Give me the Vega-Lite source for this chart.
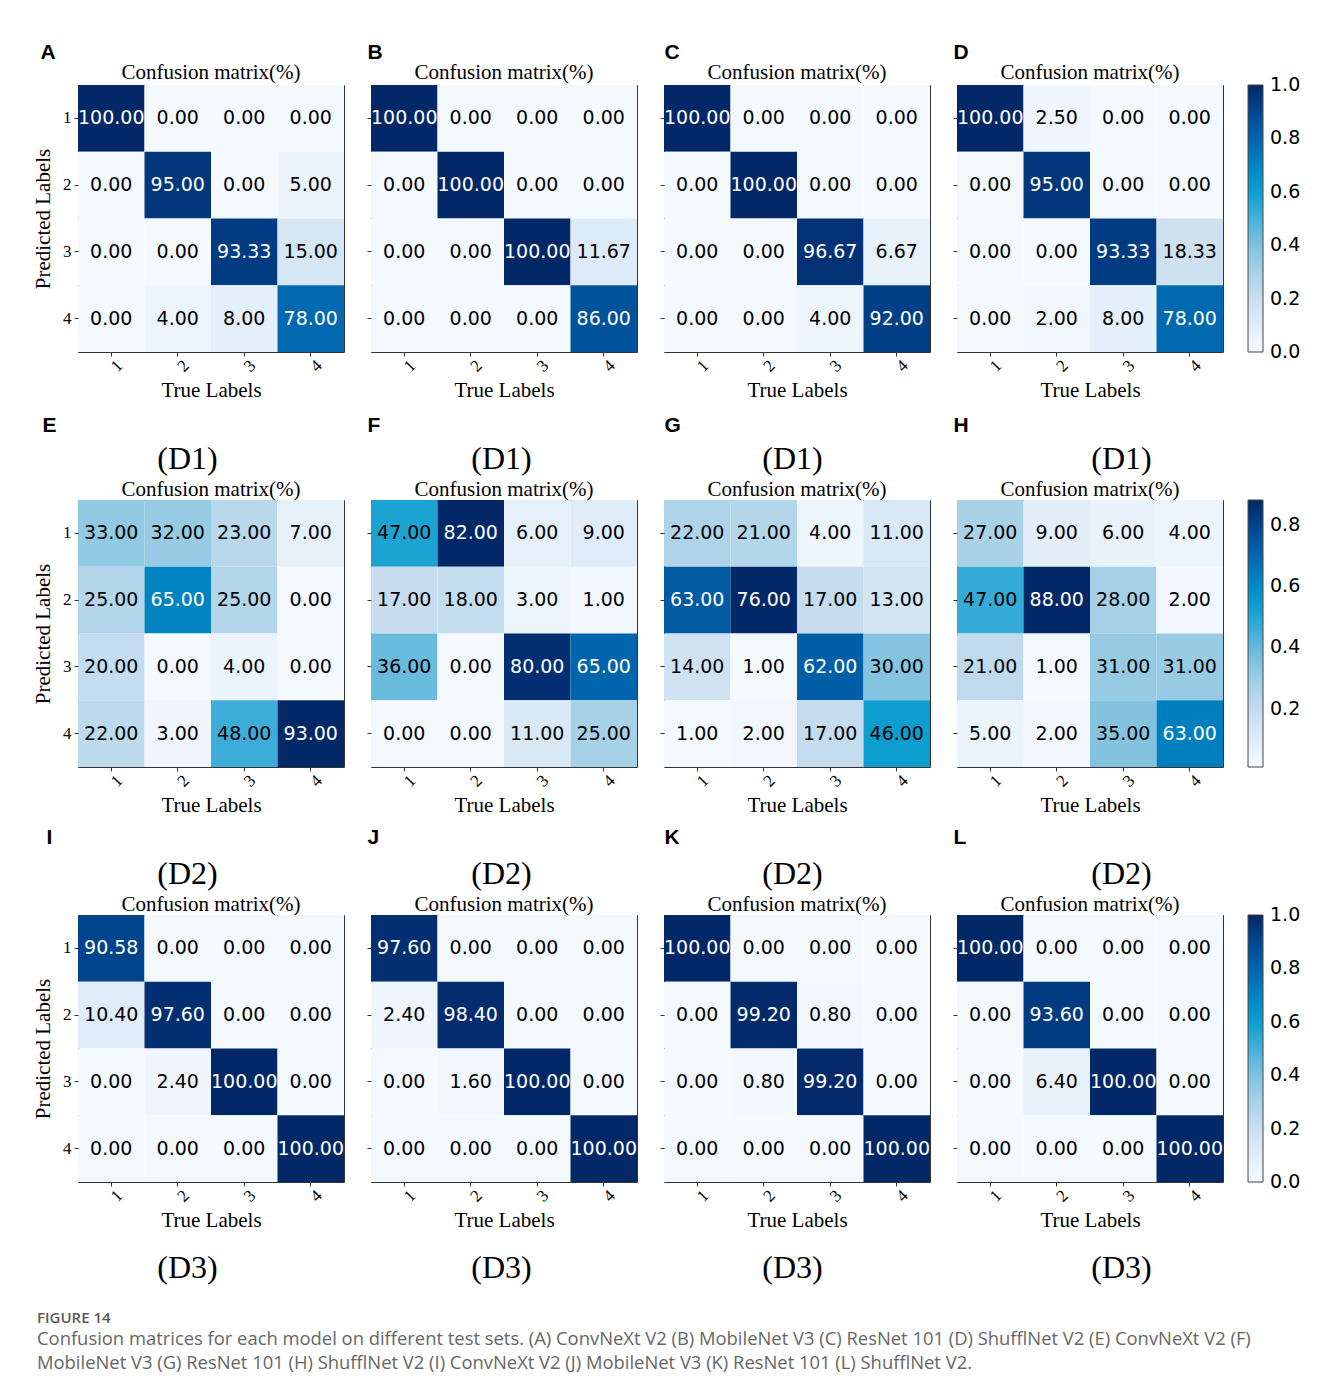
{
  "$schema": "https://vega.github.io/schema/vega-lite/v6.json",
  "background": "white",
  "padding": {"left": 32, "top": 40, "right": 5, "bottom": 5},
  "datasets": {
    "cm": [
      {"panel": "A", "pred": 1, "truth": 1, "pct": 100}, {"panel": "A", "pred": 1, "truth": 2, "pct": 0}, {"panel": "A", "pred": 1, "truth": 3, "pct": 0}, {"panel": "A", "pred": 1, "truth": 4, "pct": 0},
      {"panel": "A", "pred": 2, "truth": 1, "pct": 0}, {"panel": "A", "pred": 2, "truth": 2, "pct": 95}, {"panel": "A", "pred": 2, "truth": 3, "pct": 0}, {"panel": "A", "pred": 2, "truth": 4, "pct": 5},
      {"panel": "A", "pred": 3, "truth": 1, "pct": 0}, {"panel": "A", "pred": 3, "truth": 2, "pct": 0}, {"panel": "A", "pred": 3, "truth": 3, "pct": 93.33}, {"panel": "A", "pred": 3, "truth": 4, "pct": 15},
      {"panel": "A", "pred": 4, "truth": 1, "pct": 0}, {"panel": "A", "pred": 4, "truth": 2, "pct": 4}, {"panel": "A", "pred": 4, "truth": 3, "pct": 8}, {"panel": "A", "pred": 4, "truth": 4, "pct": 78},

      {"panel": "B", "pred": 1, "truth": 1, "pct": 100}, {"panel": "B", "pred": 1, "truth": 2, "pct": 0}, {"panel": "B", "pred": 1, "truth": 3, "pct": 0}, {"panel": "B", "pred": 1, "truth": 4, "pct": 0},
      {"panel": "B", "pred": 2, "truth": 1, "pct": 0}, {"panel": "B", "pred": 2, "truth": 2, "pct": 100}, {"panel": "B", "pred": 2, "truth": 3, "pct": 0}, {"panel": "B", "pred": 2, "truth": 4, "pct": 0},
      {"panel": "B", "pred": 3, "truth": 1, "pct": 0}, {"panel": "B", "pred": 3, "truth": 2, "pct": 0}, {"panel": "B", "pred": 3, "truth": 3, "pct": 100}, {"panel": "B", "pred": 3, "truth": 4, "pct": 11.67},
      {"panel": "B", "pred": 4, "truth": 1, "pct": 0}, {"panel": "B", "pred": 4, "truth": 2, "pct": 0}, {"panel": "B", "pred": 4, "truth": 3, "pct": 0}, {"panel": "B", "pred": 4, "truth": 4, "pct": 86},

      {"panel": "C", "pred": 1, "truth": 1, "pct": 100}, {"panel": "C", "pred": 1, "truth": 2, "pct": 0}, {"panel": "C", "pred": 1, "truth": 3, "pct": 0}, {"panel": "C", "pred": 1, "truth": 4, "pct": 0},
      {"panel": "C", "pred": 2, "truth": 1, "pct": 0}, {"panel": "C", "pred": 2, "truth": 2, "pct": 100}, {"panel": "C", "pred": 2, "truth": 3, "pct": 0}, {"panel": "C", "pred": 2, "truth": 4, "pct": 0},
      {"panel": "C", "pred": 3, "truth": 1, "pct": 0}, {"panel": "C", "pred": 3, "truth": 2, "pct": 0}, {"panel": "C", "pred": 3, "truth": 3, "pct": 96.67}, {"panel": "C", "pred": 3, "truth": 4, "pct": 6.67},
      {"panel": "C", "pred": 4, "truth": 1, "pct": 0}, {"panel": "C", "pred": 4, "truth": 2, "pct": 0}, {"panel": "C", "pred": 4, "truth": 3, "pct": 4}, {"panel": "C", "pred": 4, "truth": 4, "pct": 92},

      {"panel": "D", "pred": 1, "truth": 1, "pct": 100}, {"panel": "D", "pred": 1, "truth": 2, "pct": 2.5}, {"panel": "D", "pred": 1, "truth": 3, "pct": 0}, {"panel": "D", "pred": 1, "truth": 4, "pct": 0},
      {"panel": "D", "pred": 2, "truth": 1, "pct": 0}, {"panel": "D", "pred": 2, "truth": 2, "pct": 95}, {"panel": "D", "pred": 2, "truth": 3, "pct": 0}, {"panel": "D", "pred": 2, "truth": 4, "pct": 0},
      {"panel": "D", "pred": 3, "truth": 1, "pct": 0}, {"panel": "D", "pred": 3, "truth": 2, "pct": 0}, {"panel": "D", "pred": 3, "truth": 3, "pct": 93.33}, {"panel": "D", "pred": 3, "truth": 4, "pct": 18.33},
      {"panel": "D", "pred": 4, "truth": 1, "pct": 0}, {"panel": "D", "pred": 4, "truth": 2, "pct": 2}, {"panel": "D", "pred": 4, "truth": 3, "pct": 8}, {"panel": "D", "pred": 4, "truth": 4, "pct": 78},

      {"panel": "E", "pred": 1, "truth": 1, "pct": 33}, {"panel": "E", "pred": 1, "truth": 2, "pct": 32}, {"panel": "E", "pred": 1, "truth": 3, "pct": 23}, {"panel": "E", "pred": 1, "truth": 4, "pct": 7},
      {"panel": "E", "pred": 2, "truth": 1, "pct": 25}, {"panel": "E", "pred": 2, "truth": 2, "pct": 65}, {"panel": "E", "pred": 2, "truth": 3, "pct": 25}, {"panel": "E", "pred": 2, "truth": 4, "pct": 0},
      {"panel": "E", "pred": 3, "truth": 1, "pct": 20}, {"panel": "E", "pred": 3, "truth": 2, "pct": 0}, {"panel": "E", "pred": 3, "truth": 3, "pct": 4}, {"panel": "E", "pred": 3, "truth": 4, "pct": 0},
      {"panel": "E", "pred": 4, "truth": 1, "pct": 22}, {"panel": "E", "pred": 4, "truth": 2, "pct": 3}, {"panel": "E", "pred": 4, "truth": 3, "pct": 48}, {"panel": "E", "pred": 4, "truth": 4, "pct": 93},

      {"panel": "F", "pred": 1, "truth": 1, "pct": 47}, {"panel": "F", "pred": 1, "truth": 2, "pct": 82}, {"panel": "F", "pred": 1, "truth": 3, "pct": 6}, {"panel": "F", "pred": 1, "truth": 4, "pct": 9},
      {"panel": "F", "pred": 2, "truth": 1, "pct": 17}, {"panel": "F", "pred": 2, "truth": 2, "pct": 18}, {"panel": "F", "pred": 2, "truth": 3, "pct": 3}, {"panel": "F", "pred": 2, "truth": 4, "pct": 1},
      {"panel": "F", "pred": 3, "truth": 1, "pct": 36}, {"panel": "F", "pred": 3, "truth": 2, "pct": 0}, {"panel": "F", "pred": 3, "truth": 3, "pct": 80}, {"panel": "F", "pred": 3, "truth": 4, "pct": 65},
      {"panel": "F", "pred": 4, "truth": 1, "pct": 0}, {"panel": "F", "pred": 4, "truth": 2, "pct": 0}, {"panel": "F", "pred": 4, "truth": 3, "pct": 11}, {"panel": "F", "pred": 4, "truth": 4, "pct": 25},

      {"panel": "G", "pred": 1, "truth": 1, "pct": 22}, {"panel": "G", "pred": 1, "truth": 2, "pct": 21}, {"panel": "G", "pred": 1, "truth": 3, "pct": 4}, {"panel": "G", "pred": 1, "truth": 4, "pct": 11},
      {"panel": "G", "pred": 2, "truth": 1, "pct": 63}, {"panel": "G", "pred": 2, "truth": 2, "pct": 76}, {"panel": "G", "pred": 2, "truth": 3, "pct": 17}, {"panel": "G", "pred": 2, "truth": 4, "pct": 13},
      {"panel": "G", "pred": 3, "truth": 1, "pct": 14}, {"panel": "G", "pred": 3, "truth": 2, "pct": 1}, {"panel": "G", "pred": 3, "truth": 3, "pct": 62}, {"panel": "G", "pred": 3, "truth": 4, "pct": 30},
      {"panel": "G", "pred": 4, "truth": 1, "pct": 1}, {"panel": "G", "pred": 4, "truth": 2, "pct": 2}, {"panel": "G", "pred": 4, "truth": 3, "pct": 17}, {"panel": "G", "pred": 4, "truth": 4, "pct": 46},

      {"panel": "H", "pred": 1, "truth": 1, "pct": 27}, {"panel": "H", "pred": 1, "truth": 2, "pct": 9}, {"panel": "H", "pred": 1, "truth": 3, "pct": 6}, {"panel": "H", "pred": 1, "truth": 4, "pct": 4},
      {"panel": "H", "pred": 2, "truth": 1, "pct": 47}, {"panel": "H", "pred": 2, "truth": 2, "pct": 88}, {"panel": "H", "pred": 2, "truth": 3, "pct": 28}, {"panel": "H", "pred": 2, "truth": 4, "pct": 2},
      {"panel": "H", "pred": 3, "truth": 1, "pct": 21}, {"panel": "H", "pred": 3, "truth": 2, "pct": 1}, {"panel": "H", "pred": 3, "truth": 3, "pct": 31}, {"panel": "H", "pred": 3, "truth": 4, "pct": 31},
      {"panel": "H", "pred": 4, "truth": 1, "pct": 5}, {"panel": "H", "pred": 4, "truth": 2, "pct": 2}, {"panel": "H", "pred": 4, "truth": 3, "pct": 35}, {"panel": "H", "pred": 4, "truth": 4, "pct": 63},

      {"panel": "I", "pred": 1, "truth": 1, "pct": 90.58}, {"panel": "I", "pred": 1, "truth": 2, "pct": 0}, {"panel": "I", "pred": 1, "truth": 3, "pct": 0}, {"panel": "I", "pred": 1, "truth": 4, "pct": 0},
      {"panel": "I", "pred": 2, "truth": 1, "pct": 10.4}, {"panel": "I", "pred": 2, "truth": 2, "pct": 97.6}, {"panel": "I", "pred": 2, "truth": 3, "pct": 0}, {"panel": "I", "pred": 2, "truth": 4, "pct": 0},
      {"panel": "I", "pred": 3, "truth": 1, "pct": 0}, {"panel": "I", "pred": 3, "truth": 2, "pct": 2.4}, {"panel": "I", "pred": 3, "truth": 3, "pct": 100}, {"panel": "I", "pred": 3, "truth": 4, "pct": 0},
      {"panel": "I", "pred": 4, "truth": 1, "pct": 0}, {"panel": "I", "pred": 4, "truth": 2, "pct": 0}, {"panel": "I", "pred": 4, "truth": 3, "pct": 0}, {"panel": "I", "pred": 4, "truth": 4, "pct": 100},

      {"panel": "J", "pred": 1, "truth": 1, "pct": 97.6}, {"panel": "J", "pred": 1, "truth": 2, "pct": 0}, {"panel": "J", "pred": 1, "truth": 3, "pct": 0}, {"panel": "J", "pred": 1, "truth": 4, "pct": 0},
      {"panel": "J", "pred": 2, "truth": 1, "pct": 2.4}, {"panel": "J", "pred": 2, "truth": 2, "pct": 98.4}, {"panel": "J", "pred": 2, "truth": 3, "pct": 0}, {"panel": "J", "pred": 2, "truth": 4, "pct": 0},
      {"panel": "J", "pred": 3, "truth": 1, "pct": 0}, {"panel": "J", "pred": 3, "truth": 2, "pct": 1.6}, {"panel": "J", "pred": 3, "truth": 3, "pct": 100}, {"panel": "J", "pred": 3, "truth": 4, "pct": 0},
      {"panel": "J", "pred": 4, "truth": 1, "pct": 0}, {"panel": "J", "pred": 4, "truth": 2, "pct": 0}, {"panel": "J", "pred": 4, "truth": 3, "pct": 0}, {"panel": "J", "pred": 4, "truth": 4, "pct": 100},

      {"panel": "K", "pred": 1, "truth": 1, "pct": 100}, {"panel": "K", "pred": 1, "truth": 2, "pct": 0}, {"panel": "K", "pred": 1, "truth": 3, "pct": 0}, {"panel": "K", "pred": 1, "truth": 4, "pct": 0},
      {"panel": "K", "pred": 2, "truth": 1, "pct": 0}, {"panel": "K", "pred": 2, "truth": 2, "pct": 99.2}, {"panel": "K", "pred": 2, "truth": 3, "pct": 0.8}, {"panel": "K", "pred": 2, "truth": 4, "pct": 0},
      {"panel": "K", "pred": 3, "truth": 1, "pct": 0}, {"panel": "K", "pred": 3, "truth": 2, "pct": 0.8}, {"panel": "K", "pred": 3, "truth": 3, "pct": 99.2}, {"panel": "K", "pred": 3, "truth": 4, "pct": 0},
      {"panel": "K", "pred": 4, "truth": 1, "pct": 0}, {"panel": "K", "pred": 4, "truth": 2, "pct": 0}, {"panel": "K", "pred": 4, "truth": 3, "pct": 0}, {"panel": "K", "pred": 4, "truth": 4, "pct": 100},

      {"panel": "L", "pred": 1, "truth": 1, "pct": 100}, {"panel": "L", "pred": 1, "truth": 2, "pct": 0}, {"panel": "L", "pred": 1, "truth": 3, "pct": 0}, {"panel": "L", "pred": 1, "truth": 4, "pct": 0},
      {"panel": "L", "pred": 2, "truth": 1, "pct": 0}, {"panel": "L", "pred": 2, "truth": 2, "pct": 93.6}, {"panel": "L", "pred": 2, "truth": 3, "pct": 0}, {"panel": "L", "pred": 2, "truth": 4, "pct": 0},
      {"panel": "L", "pred": 3, "truth": 1, "pct": 0}, {"panel": "L", "pred": 3, "truth": 2, "pct": 6.4}, {"panel": "L", "pred": 3, "truth": 3, "pct": 100}, {"panel": "L", "pred": 3, "truth": 4, "pct": 0},
      {"panel": "L", "pred": 4, "truth": 1, "pct": 0}, {"panel": "L", "pred": 4, "truth": 2, "pct": 0}, {"panel": "L", "pred": 4, "truth": 3, "pct": 0}, {"panel": "L", "pred": 4, "truth": 4, "pct": 100}
    ]
  },
  "data": {"name": "cm"},
  "title": {
    "text": "FIGURE 14",
    "subtitle": [
      "Confusion matrices for each model on different test sets. (A) ConvNeXt V2 (B) MobileNet V3 (C) ResNet 101 (D) ShufflNet V2 (E) ConvNeXt V2 (F)",
      "MobileNet V3 (G) ResNet 101 (H) ShufflNet V2 (I) ConvNeXt V2 (J) MobileNet V3 (K) ResNet 101 (L) ShufflNet V2."
    ],
    "orient": "bottom",
    "anchor": "start",
    "frame": "bounds",
    "offset": 27,
    "dx": 5,
    "font": "Open Sans",
    "fontSize": 15,
    "fontWeight": 600,
    "color": "#5a5a5a",
    "subtitleFont": "Open Sans",
    "subtitleFontSize": 18.4,
    "subtitleColor": "#666666",
    "subtitleLineHeight": 24,
    "subtitlePadding": 4
  },
  "columns": 4,
  "spacing": {"row": 148, "column": 27},
  "bounds": "flush",
  "resolve": {"scale": {"color": "independent"}},
  "concat": [
    {
      "width": 266, "height": 267, "title": {"text": "Confusion matrix(%)", "dy": 45},
      "transform": [{"filter": "datum.panel === 'A'"}],
      "layer": [
        {"mark": "rect", "encoding": {
          "x": {"field": "truth", "type": "ordinal", "scale": {"paddingInner": 0, "paddingOuter": 0}, "axis": {"orient": "bottom", "title": "True Labels", "labelAngle": -45, "labelAlign": "center", "labelBaseline": "top", "labelPadding": 4, "titlePadding": 5}},
          "y": {"field": "pred", "type": "ordinal", "scale": {"paddingInner": 0, "paddingOuter": 0}, "axis": {"orient": "left", "title": "Predicted Labels", "labelAngle": 0, "labelPadding": 3, "titlePadding": 9}},
          "color": {"field": "pct", "type": "quantitative", "scale": {"domain": [0, 10, 20, 30, 40, 50, 60, 70, 80, 90, 100], "range": ["#f4f9fe", "#e1edf8", "#c9def0", "#a9d2e7", "#7fc2df", "#45b0da", "#0d9ecf", "#0083c1", "#0063aa", "#00468f", "#032868"], "interpolate": "rgb"}, "legend": null}}},
        {"mark": "text", "encoding": {
          "x": {"field": "truth", "type": "ordinal", "axis": {"orient": "top", "title": "A", "labels": false, "ticks": false, "domain": false, "titleFont": "Liberation Sans", "titleFontWeight": "bold", "titleFontSize": 21, "titleAlign": "left", "titleBaseline": "alphabetic", "titleX": -38, "titleY": -27}},
          "y": {"field": "pred", "type": "ordinal", "axis": {"orient": "right", "title": "(D1)", "labels": false, "ticks": false, "domain": false, "titleAngle": 0, "titleAlign": "center", "titleBaseline": "alphabetic", "titleFontSize": 32, "titleX": -157, "titleY": 383}},
          "text": {"field": "pct", "type": "quantitative", "format": ".2f"},
          "color": {"condition": {"test": "datum.pct > 50", "value": "#ffffff"}, "value": "#000000"}}}
      ],
      "resolve": {"axis": {"x": "independent", "y": "independent"}}
    },
    {
      "width": 266, "height": 267, "title": {"text": "Confusion matrix(%)", "dy": 45},
      "transform": [{"filter": "datum.panel === 'B'"}],
      "layer": [
        {"mark": "rect", "encoding": {
          "x": {"field": "truth", "type": "ordinal", "scale": {"paddingInner": 0, "paddingOuter": 0}, "axis": {"orient": "bottom", "title": "True Labels", "labelAngle": -45, "labelAlign": "center", "labelBaseline": "top", "labelPadding": 4, "titlePadding": 5}},
          "y": {"field": "pred", "type": "ordinal", "scale": {"paddingInner": 0, "paddingOuter": 0}, "axis": {"orient": "left", "title": null, "labels": false}},
          "color": {"field": "pct", "type": "quantitative", "scale": {"domain": [0, 10, 20, 30, 40, 50, 60, 70, 80, 90, 100], "range": ["#f4f9fe", "#e1edf8", "#c9def0", "#a9d2e7", "#7fc2df", "#45b0da", "#0d9ecf", "#0083c1", "#0063aa", "#00468f", "#032868"], "interpolate": "rgb"}, "legend": null}}},
        {"mark": "text", "encoding": {
          "x": {"field": "truth", "type": "ordinal", "axis": {"orient": "top", "title": "B", "labels": false, "ticks": false, "domain": false, "titleFont": "Liberation Sans", "titleFontWeight": "bold", "titleFontSize": 21, "titleAlign": "left", "titleBaseline": "alphabetic", "titleX": -4, "titleY": -27}},
          "y": {"field": "pred", "type": "ordinal", "axis": {"orient": "right", "title": "(D1)", "labels": false, "ticks": false, "domain": false, "titleAngle": 0, "titleAlign": "center", "titleBaseline": "alphabetic", "titleFontSize": 32, "titleX": -136, "titleY": 383}},
          "text": {"field": "pct", "type": "quantitative", "format": ".2f"},
          "color": {"condition": {"test": "datum.pct > 50", "value": "#ffffff"}, "value": "#000000"}}}
      ],
      "resolve": {"axis": {"x": "independent", "y": "independent"}}
    },
    {
      "width": 266, "height": 267, "title": {"text": "Confusion matrix(%)", "dy": 45},
      "transform": [{"filter": "datum.panel === 'C'"}],
      "layer": [
        {"mark": "rect", "encoding": {
          "x": {"field": "truth", "type": "ordinal", "scale": {"paddingInner": 0, "paddingOuter": 0}, "axis": {"orient": "bottom", "title": "True Labels", "labelAngle": -45, "labelAlign": "center", "labelBaseline": "top", "labelPadding": 4, "titlePadding": 5}},
          "y": {"field": "pred", "type": "ordinal", "scale": {"paddingInner": 0, "paddingOuter": 0}, "axis": {"orient": "left", "title": null, "labels": false}},
          "color": {"field": "pct", "type": "quantitative", "scale": {"domain": [0, 10, 20, 30, 40, 50, 60, 70, 80, 90, 100], "range": ["#f4f9fe", "#e1edf8", "#c9def0", "#a9d2e7", "#7fc2df", "#45b0da", "#0d9ecf", "#0083c1", "#0063aa", "#00468f", "#032868"], "interpolate": "rgb"}, "legend": null}}},
        {"mark": "text", "encoding": {
          "x": {"field": "truth", "type": "ordinal", "axis": {"orient": "top", "title": "C", "labels": false, "ticks": false, "domain": false, "titleFont": "Liberation Sans", "titleFontWeight": "bold", "titleFontSize": 21, "titleAlign": "left", "titleBaseline": "alphabetic", "titleX": 0, "titleY": -27}},
          "y": {"field": "pred", "type": "ordinal", "axis": {"orient": "right", "title": "(D1)", "labels": false, "ticks": false, "domain": false, "titleAngle": 0, "titleAlign": "center", "titleBaseline": "alphabetic", "titleFontSize": 32, "titleX": -138, "titleY": 383}},
          "text": {"field": "pct", "type": "quantitative", "format": ".2f"},
          "color": {"condition": {"test": "datum.pct > 50", "value": "#ffffff"}, "value": "#000000"}}}
      ],
      "resolve": {"axis": {"x": "independent", "y": "independent"}}
    },
    {
      "width": 266, "height": 267, "title": {"text": "Confusion matrix(%)", "dy": 45},
      "transform": [{"filter": "datum.panel === 'D'"}],
      "layer": [
        {"mark": "rect", "encoding": {
          "x": {"field": "truth", "type": "ordinal", "scale": {"paddingInner": 0, "paddingOuter": 0}, "axis": {"orient": "bottom", "title": "True Labels", "labelAngle": -45, "labelAlign": "center", "labelBaseline": "top", "labelPadding": 4, "titlePadding": 5}},
          "y": {"field": "pred", "type": "ordinal", "scale": {"paddingInner": 0, "paddingOuter": 0}, "axis": {"orient": "left", "title": null, "labels": false}},
          "color": {"field": "pct", "type": "quantitative", "scale": {"domain": [0, 10, 20, 30, 40, 50, 60, 70, 80, 90, 100], "range": ["#f4f9fe", "#e1edf8", "#c9def0", "#a9d2e7", "#7fc2df", "#45b0da", "#0d9ecf", "#0083c1", "#0063aa", "#00468f", "#032868"], "interpolate": "rgb"},
            "legend": {"orient": "right", "offset": 25, "title": null, "direction": "vertical", "gradientLength": 267, "gradientThickness": 15, "gradientStrokeColor": "#444444", "gradientStrokeWidth": 1, "labelFont": "DejaVu Sans", "labelFontSize": 19, "labelColor": "#000000", "labelOffset": 7, "labelOverlap": false, "values": [0, 20, 40, 60, 80, 100], "labelExpr": "format(datum.value / 100, '.1f')", "encode": {"labels": {"update": {"baseline": {"value": "middle"}}}}}}}},
        {"mark": "text", "encoding": {
          "x": {"field": "truth", "type": "ordinal", "axis": {"orient": "top", "title": "D", "labels": false, "ticks": false, "domain": false, "titleFont": "Liberation Sans", "titleFontWeight": "bold", "titleFontSize": 21, "titleAlign": "left", "titleBaseline": "alphabetic", "titleX": -4, "titleY": -27}},
          "y": {"field": "pred", "type": "ordinal", "axis": {"orient": "right", "title": "(D1)", "labels": false, "ticks": false, "domain": false, "titleAngle": 0, "titleAlign": "center", "titleBaseline": "alphabetic", "titleFontSize": 32, "titleX": -102, "titleY": 383}},
          "text": {"field": "pct", "type": "quantitative", "format": ".2f"},
          "color": {"condition": {"test": "datum.pct > 50", "value": "#ffffff"}, "value": "#000000"}}}
      ],
      "resolve": {"axis": {"x": "independent", "y": "independent"}}
    },
    {
      "width": 266, "height": 267, "title": {"text": "Confusion matrix(%)", "dy": 89},
      "transform": [{"filter": "datum.panel === 'E'"}],
      "layer": [
        {"mark": "rect", "encoding": {
          "x": {"field": "truth", "type": "ordinal", "scale": {"paddingInner": 0, "paddingOuter": 0}, "axis": {"orient": "bottom", "title": "True Labels", "labelAngle": -45, "labelAlign": "center", "labelBaseline": "top", "labelPadding": 4, "titlePadding": 5}},
          "y": {"field": "pred", "type": "ordinal", "scale": {"paddingInner": 0, "paddingOuter": 0}, "axis": {"orient": "left", "title": "Predicted Labels", "labelAngle": 0, "labelPadding": 3, "titlePadding": 9}},
          "color": {"field": "pct", "type": "quantitative", "scale": {"domain": [0, 9.3, 18.6, 27.9, 37.2, 46.5, 55.8, 65.1, 74.4, 83.7, 93], "range": ["#f4f9fe", "#e1edf8", "#c9def0", "#a9d2e7", "#7fc2df", "#45b0da", "#0d9ecf", "#0083c1", "#0063aa", "#00468f", "#032868"], "interpolate": "rgb"}, "legend": null}}},
        {"mark": "text", "encoding": {
          "x": {"field": "truth", "type": "ordinal", "axis": {"orient": "top", "title": "E", "labels": false, "ticks": false, "domain": false, "titleFont": "Liberation Sans", "titleFontWeight": "bold", "titleFontSize": 21, "titleAlign": "left", "titleBaseline": "alphabetic", "titleX": -36, "titleY": -69}},
          "y": {"field": "pred", "type": "ordinal", "axis": {"orient": "right", "title": "(D2)", "labels": false, "ticks": false, "domain": false, "titleAngle": 0, "titleAlign": "center", "titleBaseline": "alphabetic", "titleFontSize": 32, "titleX": -157, "titleY": 383}},
          "text": {"field": "pct", "type": "quantitative", "format": ".2f"},
          "color": {"condition": {"test": "datum.pct > 50", "value": "#ffffff"}, "value": "#000000"}}}
      ],
      "resolve": {"axis": {"x": "independent", "y": "independent"}}
    },
    {
      "width": 266, "height": 267, "title": {"text": "Confusion matrix(%)", "dy": 89},
      "transform": [{"filter": "datum.panel === 'F'"}],
      "layer": [
        {"mark": "rect", "encoding": {
          "x": {"field": "truth", "type": "ordinal", "scale": {"paddingInner": 0, "paddingOuter": 0}, "axis": {"orient": "bottom", "title": "True Labels", "labelAngle": -45, "labelAlign": "center", "labelBaseline": "top", "labelPadding": 4, "titlePadding": 5}},
          "y": {"field": "pred", "type": "ordinal", "scale": {"paddingInner": 0, "paddingOuter": 0}, "axis": {"orient": "left", "title": null, "labels": false}},
          "color": {"field": "pct", "type": "quantitative", "scale": {"domain": [0, 8.2, 16.4, 24.6, 32.8, 41, 49.2, 57.4, 65.6, 73.8, 82], "range": ["#f4f9fe", "#e1edf8", "#c9def0", "#a9d2e7", "#7fc2df", "#45b0da", "#0d9ecf", "#0083c1", "#0063aa", "#00468f", "#032868"], "interpolate": "rgb"}, "legend": null}}},
        {"mark": "text", "encoding": {
          "x": {"field": "truth", "type": "ordinal", "axis": {"orient": "top", "title": "F", "labels": false, "ticks": false, "domain": false, "titleFont": "Liberation Sans", "titleFontWeight": "bold", "titleFontSize": 21, "titleAlign": "left", "titleBaseline": "alphabetic", "titleX": -4, "titleY": -69}},
          "y": {"field": "pred", "type": "ordinal", "axis": {"orient": "right", "title": "(D2)", "labels": false, "ticks": false, "domain": false, "titleAngle": 0, "titleAlign": "center", "titleBaseline": "alphabetic", "titleFontSize": 32, "titleX": -136, "titleY": 383}},
          "text": {"field": "pct", "type": "quantitative", "format": ".2f"},
          "color": {"condition": {"test": "datum.pct > 50", "value": "#ffffff"}, "value": "#000000"}}}
      ],
      "resolve": {"axis": {"x": "independent", "y": "independent"}}
    },
    {
      "width": 266, "height": 267, "title": {"text": "Confusion matrix(%)", "dy": 89},
      "transform": [{"filter": "datum.panel === 'G'"}],
      "layer": [
        {"mark": "rect", "encoding": {
          "x": {"field": "truth", "type": "ordinal", "scale": {"paddingInner": 0, "paddingOuter": 0}, "axis": {"orient": "bottom", "title": "True Labels", "labelAngle": -45, "labelAlign": "center", "labelBaseline": "top", "labelPadding": 4, "titlePadding": 5}},
          "y": {"field": "pred", "type": "ordinal", "scale": {"paddingInner": 0, "paddingOuter": 0}, "axis": {"orient": "left", "title": null, "labels": false}},
          "color": {"field": "pct", "type": "quantitative", "scale": {"domain": [1, 8.5, 16, 23.5, 31, 38.5, 46, 53.5, 61, 68.5, 76], "range": ["#f4f9fe", "#e1edf8", "#c9def0", "#a9d2e7", "#7fc2df", "#45b0da", "#0d9ecf", "#0083c1", "#0063aa", "#00468f", "#032868"], "interpolate": "rgb"}, "legend": null}}},
        {"mark": "text", "encoding": {
          "x": {"field": "truth", "type": "ordinal", "axis": {"orient": "top", "title": "G", "labels": false, "ticks": false, "domain": false, "titleFont": "Liberation Sans", "titleFontWeight": "bold", "titleFontSize": 21, "titleAlign": "left", "titleBaseline": "alphabetic", "titleX": 0, "titleY": -69}},
          "y": {"field": "pred", "type": "ordinal", "axis": {"orient": "right", "title": "(D2)", "labels": false, "ticks": false, "domain": false, "titleAngle": 0, "titleAlign": "center", "titleBaseline": "alphabetic", "titleFontSize": 32, "titleX": -138, "titleY": 383}},
          "text": {"field": "pct", "type": "quantitative", "format": ".2f"},
          "color": {"condition": {"test": "datum.pct > 50", "value": "#ffffff"}, "value": "#000000"}}}
      ],
      "resolve": {"axis": {"x": "independent", "y": "independent"}}
    },
    {
      "width": 266, "height": 267, "title": {"text": "Confusion matrix(%)", "dy": 89},
      "transform": [{"filter": "datum.panel === 'H'"}],
      "layer": [
        {"mark": "rect", "encoding": {
          "x": {"field": "truth", "type": "ordinal", "scale": {"paddingInner": 0, "paddingOuter": 0}, "axis": {"orient": "bottom", "title": "True Labels", "labelAngle": -45, "labelAlign": "center", "labelBaseline": "top", "labelPadding": 4, "titlePadding": 5}},
          "y": {"field": "pred", "type": "ordinal", "scale": {"paddingInner": 0, "paddingOuter": 0}, "axis": {"orient": "left", "title": null, "labels": false}},
          "color": {"field": "pct", "type": "quantitative", "scale": {"domain": [1, 9.7, 18.4, 27.1, 35.8, 44.5, 53.2, 61.9, 70.6, 79.3, 88], "range": ["#f4f9fe", "#e1edf8", "#c9def0", "#a9d2e7", "#7fc2df", "#45b0da", "#0d9ecf", "#0083c1", "#0063aa", "#00468f", "#032868"], "interpolate": "rgb"},
            "legend": {"orient": "right", "offset": 25, "title": null, "direction": "vertical", "gradientLength": 267, "gradientThickness": 15, "gradientStrokeColor": "#444444", "gradientStrokeWidth": 1, "labelFont": "DejaVu Sans", "labelFontSize": 19, "labelColor": "#000000", "labelOffset": 7, "labelOverlap": false, "values": [20, 40, 60, 80], "labelExpr": "format(datum.value / 100, '.1f')", "encode": {"labels": {"update": {"baseline": {"value": "middle"}}}}}}}},
        {"mark": "text", "encoding": {
          "x": {"field": "truth", "type": "ordinal", "axis": {"orient": "top", "title": "H", "labels": false, "ticks": false, "domain": false, "titleFont": "Liberation Sans", "titleFontWeight": "bold", "titleFontSize": 21, "titleAlign": "left", "titleBaseline": "alphabetic", "titleX": -4, "titleY": -69}},
          "y": {"field": "pred", "type": "ordinal", "axis": {"orient": "right", "title": "(D2)", "labels": false, "ticks": false, "domain": false, "titleAngle": 0, "titleAlign": "center", "titleBaseline": "alphabetic", "titleFontSize": 32, "titleX": -102, "titleY": 383}},
          "text": {"field": "pct", "type": "quantitative", "format": ".2f"},
          "color": {"condition": {"test": "datum.pct > 50", "value": "#ffffff"}, "value": "#000000"}}}
      ],
      "resolve": {"axis": {"x": "independent", "y": "independent"}}
    },
    {
      "width": 266, "height": 267, "title": {"text": "Confusion matrix(%)", "dy": 92},
      "transform": [{"filter": "datum.panel === 'I'"}],
      "layer": [
        {"mark": "rect", "encoding": {
          "x": {"field": "truth", "type": "ordinal", "scale": {"paddingInner": 0, "paddingOuter": 0}, "axis": {"orient": "bottom", "title": "True Labels", "labelAngle": -45, "labelAlign": "center", "labelBaseline": "top", "labelPadding": 4, "titlePadding": 5}},
          "y": {"field": "pred", "type": "ordinal", "scale": {"paddingInner": 0, "paddingOuter": 0}, "axis": {"orient": "left", "title": "Predicted Labels", "labelAngle": 0, "labelPadding": 3, "titlePadding": 9}},
          "color": {"field": "pct", "type": "quantitative", "scale": {"domain": [0, 10, 20, 30, 40, 50, 60, 70, 80, 90, 100], "range": ["#f4f9fe", "#e1edf8", "#c9def0", "#a9d2e7", "#7fc2df", "#45b0da", "#0d9ecf", "#0083c1", "#0063aa", "#00468f", "#032868"], "interpolate": "rgb"}, "legend": null}}},
        {"mark": "text", "encoding": {
          "x": {"field": "truth", "type": "ordinal", "axis": {"orient": "top", "title": "I", "labels": false, "ticks": false, "domain": false, "titleFont": "Liberation Sans", "titleFontWeight": "bold", "titleFontSize": 21, "titleAlign": "left", "titleBaseline": "alphabetic", "titleX": -32, "titleY": -72}},
          "y": {"field": "pred", "type": "ordinal", "axis": {"orient": "right", "title": "(D3)", "labels": false, "ticks": false, "domain": false, "titleAngle": 0, "titleAlign": "center", "titleBaseline": "alphabetic", "titleFontSize": 32, "titleX": -157, "titleY": 362}},
          "text": {"field": "pct", "type": "quantitative", "format": ".2f"},
          "color": {"condition": {"test": "datum.pct > 50", "value": "#ffffff"}, "value": "#000000"}}}
      ],
      "resolve": {"axis": {"x": "independent", "y": "independent"}}
    },
    {
      "width": 266, "height": 267, "title": {"text": "Confusion matrix(%)", "dy": 92},
      "transform": [{"filter": "datum.panel === 'J'"}],
      "layer": [
        {"mark": "rect", "encoding": {
          "x": {"field": "truth", "type": "ordinal", "scale": {"paddingInner": 0, "paddingOuter": 0}, "axis": {"orient": "bottom", "title": "True Labels", "labelAngle": -45, "labelAlign": "center", "labelBaseline": "top", "labelPadding": 4, "titlePadding": 5}},
          "y": {"field": "pred", "type": "ordinal", "scale": {"paddingInner": 0, "paddingOuter": 0}, "axis": {"orient": "left", "title": null, "labels": false}},
          "color": {"field": "pct", "type": "quantitative", "scale": {"domain": [0, 10, 20, 30, 40, 50, 60, 70, 80, 90, 100], "range": ["#f4f9fe", "#e1edf8", "#c9def0", "#a9d2e7", "#7fc2df", "#45b0da", "#0d9ecf", "#0083c1", "#0063aa", "#00468f", "#032868"], "interpolate": "rgb"}, "legend": null}}},
        {"mark": "text", "encoding": {
          "x": {"field": "truth", "type": "ordinal", "axis": {"orient": "top", "title": "J", "labels": false, "ticks": false, "domain": false, "titleFont": "Liberation Sans", "titleFontWeight": "bold", "titleFontSize": 21, "titleAlign": "left", "titleBaseline": "alphabetic", "titleX": -4, "titleY": -72}},
          "y": {"field": "pred", "type": "ordinal", "axis": {"orient": "right", "title": "(D3)", "labels": false, "ticks": false, "domain": false, "titleAngle": 0, "titleAlign": "center", "titleBaseline": "alphabetic", "titleFontSize": 32, "titleX": -136, "titleY": 362}},
          "text": {"field": "pct", "type": "quantitative", "format": ".2f"},
          "color": {"condition": {"test": "datum.pct > 50", "value": "#ffffff"}, "value": "#000000"}}}
      ],
      "resolve": {"axis": {"x": "independent", "y": "independent"}}
    },
    {
      "width": 266, "height": 267, "title": {"text": "Confusion matrix(%)", "dy": 92},
      "transform": [{"filter": "datum.panel === 'K'"}],
      "layer": [
        {"mark": "rect", "encoding": {
          "x": {"field": "truth", "type": "ordinal", "scale": {"paddingInner": 0, "paddingOuter": 0}, "axis": {"orient": "bottom", "title": "True Labels", "labelAngle": -45, "labelAlign": "center", "labelBaseline": "top", "labelPadding": 4, "titlePadding": 5}},
          "y": {"field": "pred", "type": "ordinal", "scale": {"paddingInner": 0, "paddingOuter": 0}, "axis": {"orient": "left", "title": null, "labels": false}},
          "color": {"field": "pct", "type": "quantitative", "scale": {"domain": [0, 10, 20, 30, 40, 50, 60, 70, 80, 90, 100], "range": ["#f4f9fe", "#e1edf8", "#c9def0", "#a9d2e7", "#7fc2df", "#45b0da", "#0d9ecf", "#0083c1", "#0063aa", "#00468f", "#032868"], "interpolate": "rgb"}, "legend": null}}},
        {"mark": "text", "encoding": {
          "x": {"field": "truth", "type": "ordinal", "axis": {"orient": "top", "title": "K", "labels": false, "ticks": false, "domain": false, "titleFont": "Liberation Sans", "titleFontWeight": "bold", "titleFontSize": 21, "titleAlign": "left", "titleBaseline": "alphabetic", "titleX": 0, "titleY": -72}},
          "y": {"field": "pred", "type": "ordinal", "axis": {"orient": "right", "title": "(D3)", "labels": false, "ticks": false, "domain": false, "titleAngle": 0, "titleAlign": "center", "titleBaseline": "alphabetic", "titleFontSize": 32, "titleX": -138, "titleY": 362}},
          "text": {"field": "pct", "type": "quantitative", "format": ".2f"},
          "color": {"condition": {"test": "datum.pct > 50", "value": "#ffffff"}, "value": "#000000"}}}
      ],
      "resolve": {"axis": {"x": "independent", "y": "independent"}}
    },
    {
      "width": 266, "height": 267, "title": {"text": "Confusion matrix(%)", "dy": 92},
      "transform": [{"filter": "datum.panel === 'L'"}],
      "layer": [
        {"mark": "rect", "encoding": {
          "x": {"field": "truth", "type": "ordinal", "scale": {"paddingInner": 0, "paddingOuter": 0}, "axis": {"orient": "bottom", "title": "True Labels", "labelAngle": -45, "labelAlign": "center", "labelBaseline": "top", "labelPadding": 4, "titlePadding": 5}},
          "y": {"field": "pred", "type": "ordinal", "scale": {"paddingInner": 0, "paddingOuter": 0}, "axis": {"orient": "left", "title": null, "labels": false}},
          "color": {"field": "pct", "type": "quantitative", "scale": {"domain": [0, 10, 20, 30, 40, 50, 60, 70, 80, 90, 100], "range": ["#f4f9fe", "#e1edf8", "#c9def0", "#a9d2e7", "#7fc2df", "#45b0da", "#0d9ecf", "#0083c1", "#0063aa", "#00468f", "#032868"], "interpolate": "rgb"},
            "legend": {"orient": "right", "offset": 25, "title": null, "direction": "vertical", "gradientLength": 267, "gradientThickness": 15, "gradientStrokeColor": "#444444", "gradientStrokeWidth": 1, "labelFont": "DejaVu Sans", "labelFontSize": 19, "labelColor": "#000000", "labelOffset": 7, "labelOverlap": false, "values": [0, 20, 40, 60, 80, 100], "labelExpr": "format(datum.value / 100, '.1f')", "encode": {"labels": {"update": {"baseline": {"value": "middle"}}}}}}}},
        {"mark": "text", "encoding": {
          "x": {"field": "truth", "type": "ordinal", "axis": {"orient": "top", "title": "L", "labels": false, "ticks": false, "domain": false, "titleFont": "Liberation Sans", "titleFontWeight": "bold", "titleFontSize": 21, "titleAlign": "left", "titleBaseline": "alphabetic", "titleX": -4, "titleY": -72}},
          "y": {"field": "pred", "type": "ordinal", "axis": {"orient": "right", "title": "(D3)", "labels": false, "ticks": false, "domain": false, "titleAngle": 0, "titleAlign": "center", "titleBaseline": "alphabetic", "titleFontSize": 32, "titleX": -102, "titleY": 362}},
          "text": {"field": "pct", "type": "quantitative", "format": ".2f"},
          "color": {"condition": {"test": "datum.pct > 50", "value": "#ffffff"}, "value": "#000000"}}}
      ],
      "resolve": {"axis": {"x": "independent", "y": "independent"}}
    }
  ],
  "config": {
    "view": {"stroke": "#333333", "strokeWidth": 1},
    "axis": {"labelFont": "Liberation Serif", "labelFontSize": 17, "labelColor": "#000000", "titleFont": "Liberation Serif", "titleFontSize": 21, "titleFontWeight": "normal", "titleColor": "#000000", "tickColor": "#333333", "tickSize": 4, "domain": false, "grid": false},
    "title": {"font": "Liberation Serif", "fontSize": 21, "fontWeight": "normal", "color": "#000000", "offset": 3},
    "text": {"font": "DejaVu Sans", "fontSize": 19}
  }
}
